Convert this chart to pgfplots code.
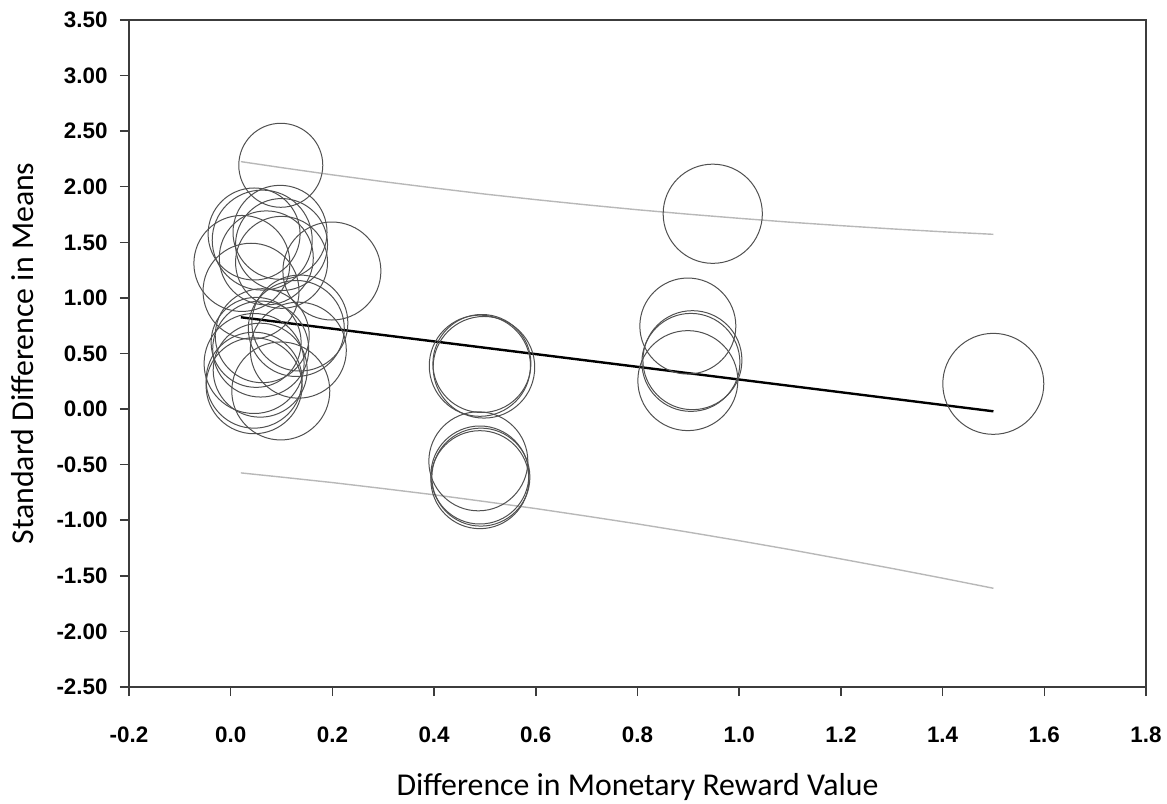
\documentclass[border=0pt]{standalone}
\usepackage{pgfplots}
\pgfplotsset{compat=1.18}
\usepackage{pgfplotstable}
\usepackage{fontspec}
\setmainfont{Carlito}
\newfontfamily\tickfont{Liberation Sans}
\definecolor{circ}{HTML}{505050}
\definecolor{ci}{HTML}{B8B8B8}
\definecolor{axc}{HTML}{3C3C3C}

\pgfplotstableread{
x y r
0.0985 2.193 21
0.046 1.575 23
0.062 1.52 25
0.097 1.59 23.5
0.100 1.48 23
0.100 1.32 23
0.022 1.31 24
0.199 1.242 24.5
0.040 1.06 24
0.070 1.36 23.5
0.136 0.774 24
0.129 0.725 24
0.050 0.60 22.5
0.059 0.54 24
0.062 0.66 23.5
0.133 0.53 24
0.046 0.41 25
0.058 0.35 23.5
0.046 0.26 24
0.046 0.21 24
0.0985 0.163 24.5
0.490 0.390 25.3
0.498 0.376 25.4
0.494 0.41 24.5
0.487 -0.47 24.75
0.490 -0.593 24.5
0.492 -0.612 24.5
0.490 -0.635 24.5
0.899 0.747 24
0.908 0.44 24.75
0.905 0.42 24.5
0.899 0.256 25
0.948 1.757 24.8
1.4997 0.227 25.25
}\circles

\pgfplotstableread{
x up lo
0.02 2.226 -0.574
0.1 2.172 -0.612
0.2 2.107 -0.661
0.3 2.046 -0.715
0.4 1.989 -0.771
0.5 1.934 -0.832
0.6 1.884 -0.895
0.7 1.837 -0.963
0.8 1.793 -1.033
0.9 1.753 -1.107
1.0 1.716 -1.184
1.1 1.681 -1.264
1.2 1.650 -1.348
1.3 1.621 -1.433
1.4 1.595 -1.521
1.5 1.572 -1.612
}\citab

\begin{document}
\begin{tikzpicture}
\path[use as bounding box] (-64.5pt,-58pt) rectangle (519pt,343.5pt);
\begin{axis}[
  at={(0pt,0pt)}, anchor=south west,
  scale only axis, width=508.5pt, height=333.5pt,
  xmin=-0.2, xmax=1.8, ymin=-2.5, ymax=3.5,
  xtick={-0.2,0,0.2,0.4,0.6,0.8,1.0,1.2,1.4,1.6,1.8},
  xticklabels={-0.2,0.0,0.2,0.4,0.6,0.8,1.0,1.2,1.4,1.6,1.8},
  ytick={-2.5,-2,-1.5,-1,-0.5,0,0.5,1,1.5,2,2.5,3,3.5},
  yticklabels={-2.50,-2.00,-1.50,-1.00,-0.50,0.00,0.50,1.00,1.50,2.00,2.50,3.00,3.50},
  tick pos=left, tick align=outside,
  major tick length=4.5pt,
  axis line style={draw=axc, line width=0.75pt},
  every tick/.style={draw=axc, line width=0.75pt},
  ticklabel style={font=\tickfont\bfseries\fontsize{11.2}{13}\selectfont, inner sep=0pt, text=black},
  xticklabel style={anchor=base, yshift=-23pt},
  yticklabel style={anchor=east, xshift=-6pt},
  xlabel={Difference in Monetary Reward Value},
  ylabel={Standard Difference in Means},
  label style={font=\fontsize{15.9}{18}\selectfont},
  xlabel style={at={([yshift=-54pt]axis description cs:0.5,0)}, anchor=base},
  ylabel style={at={([xshift=-47.5pt]axis description cs:0,0.5)}, anchor=base},
]
\addplot[ci, line width=0.7pt] table[x=x, y=up] {\citab};
\addplot[ci, line width=0.7pt] table[x=x, y=lo] {\citab};
\addplot[
  scatter, only marks, mark=o, point meta=y,
  scatter/use mapped color={draw=circ, fill=none},
  mark options={line width=0.5pt},
  visualization depends on={\thisrow{r} \as \rad},
  scatter/@pre marker code/.append style={/tikz/mark size=\rad},
] table[x=x, y=y] {\circles};
\addplot[black, line width=1.2pt] coordinates {(0.02,0.826) (1.5,-0.02)};
\end{axis}
\end{tikzpicture}
\end{document}
